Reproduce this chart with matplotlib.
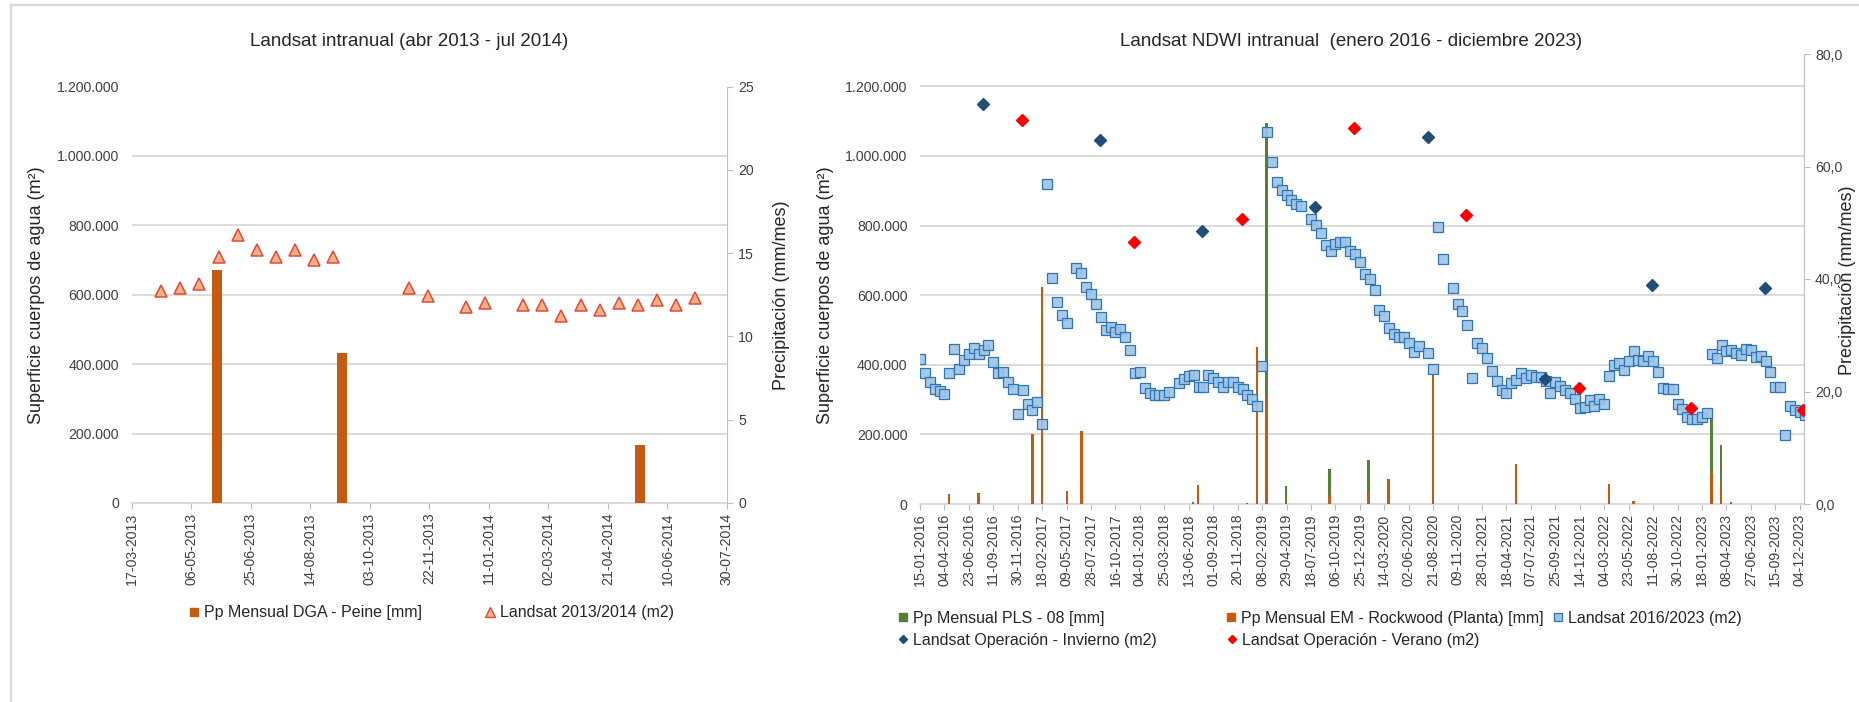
import matplotlib
matplotlib.use('Agg')
import matplotlib.pyplot as plt
import matplotlib.dates as mdates
from matplotlib.lines import Line2D
from matplotlib.ticker import FuncFormatter
import numpy as np
import pandas as pd

plt.rcParams['font.family'] = ['Liberation Sans', 'DejaVu Sans']

# ---- left chart data (2013/2014) ----
pp_dga_dates = ['2013-05-28', '2013-09-10', '2014-05-18']
pp_dga_mm = [14.0, 9.0, 3.5]
ls13_dates = ['2013-04-11', '2013-04-27', '2013-05-13', '2013-05-29', '2013-06-14', '2013-06-30',
              '2013-07-16', '2013-08-01', '2013-08-17', '2013-09-02', '2013-11-05', '2013-11-21',
              '2013-12-23', '2014-01-08', '2014-02-09', '2014-02-25', '2014-03-13', '2014-03-29',
              '2014-04-14', '2014-04-30', '2014-05-16', '2014-06-01', '2014-06-17', '2014-07-03']
ls13_area = [610, 620, 632, 709, 771, 729, 709, 729, 700, 710, 620, 597,
             566, 577, 570, 570, 538, 570, 557, 576, 570, 586, 570, 590]  # miles de m2

# ---- right chart data (2016/2023) ----
ls16_start = '2016-01-15'  # escenas cada 16 dias, nan = sin dato
ls16_area = [417, 375, 351, 331, 324, 316, 375, 446, 389, 414, 430, 449, 430, 442, 456, 407,
             376, 380, 350, 331, 259, 328, 288, 270, 292, 231, 920, 649, 580, 544, 521, np.nan,
             677, 664, 624, 603, 575, 538, 501, 508, 493, 504, 479, 442, 377, 378, 333, 320,
             312, 312, 312, 321, np.nan, 348, 358, 368, 370, 337, 337, 370, 363, 351, 336, 351,
             350, 336, 329, 313, 303, 282, 397, 1070, 983, 926, 901, 888, 874, 862, 857, np.nan,
             820, 803, 778, 745, 726, 746, 754, 753, 728, 717, 696, 660, 647, 616, 558, 541,
             507, 488, 480, 479, 464, 437, 455, np.nan, 434, 389, 795, 704, np.nan, 621, 575, 555,
             515, 362, 463, 448, 419, 383, 354, 328, 319, 347, 357, 376, 361, 372, 366, 366,
             352, 320, 350, 338, 328, 318, 302, 277, 280, 299, 282, 301, 287, 369, 400, 405,
             384, 410, 439, 415, 412, 426, 411, 378, 333, 330, 330, 288, 272, 251, 244, 244,
             251, 261, 431, 419, 457, 440, 443, 434, 429, 445, 443, 422, 426, 411, 379, 335,
             335, 199, 282, 270, 263, 256]
inv_dates = ['2016-08-08', '2017-08-27', '2018-07-27', '2019-07-31', '2020-08-03', '2021-08-22',
             '2022-08-09', '2023-08-11']
inv_area = [1150, 1046, 783, 853, 1054, 360, 629, 622]
ver_dates = ['2016-12-13', '2017-12-16', '2018-12-03', '2019-12-05', '2020-12-08', '2021-12-13',
             '2022-12-12', '2023-12-16']
ver_area = [1102, 753, 818, 1080, 830, 333, 275, 269]
em_dates = ['2016-04-19', '2016-07-24', '2017-01-18', '2017-02-17', '2017-05-10', '2017-06-27',
            '2018-06-27', '2018-07-14', '2019-01-22', '2019-02-23', '2019-09-17', '2020-01-22',
            '2020-03-28', '2020-08-20', '2021-05-20', '2022-03-20', '2022-06-08', '2023-02-18',
            '2023-03-21', '2023-04-23']
em_mm = [1.8, 1.9, 12.4, 38.6, 2.4, 13.0, 0.3, 3.4, 28.0, 19.2, 1.6, 2.2,
         4.4, 23.0, 7.2, 3.5, 0.5, 5.3, 3.25, 0.3]
pls_dates = ['2018-12-20', '2019-02-23', '2019-04-27', '2019-09-17', '2020-01-22', '2023-02-18',
             '2023-03-21']
pls_mm = [0.2, 67.7, 3.25, 6.3, 7.8, 15.4, 10.5]

W, H = 1859, 702
ORANGE = '#C55A11'
GREEN = '#548235'
GRID = '#D9D9D9'
TXT = '#262626'
TCK = '#404040'


def rect(x0, y0, x1, y1):
    return [x0 / W, 1 - y1 / H, (x1 - x0) / W, (y1 - y0) / H]


def miles(v, pos):
    return f'{v:,.0f}'.replace(',', '.')


def style_axes(ax, ax2, ticks, ylim, yticks):
    ax.set_ylim(*ylim)
    ax.set_yticks(yticks)
    ax.yaxis.set_major_formatter(FuncFormatter(miles))
    ax.grid(axis='y', color=GRID, lw=1.3)
    ax.set_axisbelow(True)
    for s in ['left', 'top', 'right']:
        ax.spines[s].set_visible(False)
    ax.spines['bottom'].set_color(GRID)
    ax.spines['bottom'].set_linewidth(1.3)
    ax.tick_params(axis='y', length=0, pad=9, labelsize=10.2, labelcolor=TCK)
    ax.set_xticks(ticks)
    ax.xaxis.set_major_formatter(mdates.DateFormatter('%d-%m-%Y'))
    ax.tick_params(axis='x', rotation=90, labelsize=10.2, labelcolor=TCK, length=4,
                   color='#BFBFBF', pad=3)
    for s in ['left', 'top', 'bottom']:
        ax2.spines[s].set_visible(False)
    ax2.spines['right'].set_color('#BFBFBF')
    ax2.tick_params(axis='y', length=4, color='#BFBFBF', pad=4, labelsize=10.2, labelcolor=TCK)


fig = plt.figure(figsize=(W / 100, H / 100), dpi=100)

# ---------------- left chart ----------------
r1 = rect(131.6, 86.5, 727, 503)
ax1 = fig.add_axes(r1)
ax1b = ax1.twinx()
ax1c = fig.add_axes(r1, sharex=ax1, sharey=ax1)
ax1c.axis('off')

t1 = pd.date_range('2013-03-17', '2014-07-30', freq='50D')
ax1.set_xlim(t1[0], t1[-1])
style_axes(ax1, ax1b, t1, (0, 1.2e6), np.arange(0, 1.2e6 + 1, 2e5))

ax1b.bar(pd.to_datetime(pp_dga_dates), pp_dga_mm, width=8.5, color=ORANGE)
ax1b.set_ylim(0, 25)
ax1b.set_yticks(range(0, 26, 5))
ax1c.plot(pd.to_datetime(ls13_dates), np.array(ls13_area) * 1000, ls='none', marker='^',
          ms=9.3, mfc='#F4B183', mec='#E04A3F', mew=1.1)

fig.text(409 / W, 1 - 41.7 / H, 'Landsat intranual (abr 2013 - jul 2014)', ha='center',
         va='center', fontsize=13.5, color=TXT)
fig.text(36.5 / W, 1 - 295 / H, 'Superficie cuerpos de agua (m²)', rotation=90, ha='center',
         va='center', fontsize=13, color=TXT)
fig.text(782 / W, 1 - 295 / H, 'Precipitación (mm/mes)', rotation=90, ha='center',
         va='center', fontsize=13, color=TXT)

# ---------------- right chart ----------------
r2 = rect(920, 54, 1804, 504)
ax2 = fig.add_axes(r2)
ax2b = ax2.twinx()
ax2c = fig.add_axes(r2, sharex=ax2, sharey=ax2)
ax2c.axis('off')

t2 = pd.date_range('2016-01-15', '2023-12-04', freq='80D')
ax2.set_xlim(t2[0], pd.Timestamp('2023-12-18'))
style_axes(ax2, ax2b, t2, (0, 1.293e6), np.arange(0, 1.2e6 + 1, 2e5))

ax2b.bar(pd.to_datetime(pls_dates), pls_mm, width=8, color=GREEN)
ax2b.bar(pd.to_datetime(em_dates), em_mm, width=8, color=ORANGE)
ax2b.set_ylim(0, 80)
ax2b.set_yticks(range(0, 81, 20))
ax2b.yaxis.set_major_formatter(FuncFormatter(lambda v, p: f'{v:.1f}'.replace('.', ',')))

ls16_dates = pd.date_range(ls16_start, periods=len(ls16_area), freq='16D')
ax2c.plot(ls16_dates, np.array(ls16_area) * 1000, ls='none', marker='s', ms=6.9,
          mfc=(0.616, 0.765, 0.902, 0.9), mec='#2E75B6', mew=0.9)
ax2c.plot(pd.to_datetime(inv_dates), np.array(inv_area) * 1000, ls='none', marker='D', ms=6.4,
          color='#1F4E79')
ax2c.plot(pd.to_datetime(ver_dates), np.array(ver_area) * 1000, ls='none', marker='D', ms=6.4,
          color='#FF0000')

fig.text(1351 / W, 1 - 41.7 / H, 'Landsat NDWI intranual  (enero 2016 - diciembre 2023)',
         ha='center', va='center', fontsize=13.5, color=TXT)
fig.text(826 / W, 1 - 295 / H, 'Superficie cuerpos de agua (m²)', rotation=90, ha='center',
         va='center', fontsize=13, color=TXT)
fig.text(1848 / W, 1 - 280 / H, 'Precipitación (mm/mes)', rotation=90, ha='center',
         va='center', fontsize=13, color=TXT)

# ---------------- legends ----------------
def legend_item(handle, label, xc, yc, fs=11.5):
    hl = 0.7
    x0 = xc - hl * fs * 100 / 72 / 2
    leg = fig.legend(handles=[handle], labels=[label], loc='center left',
                     bbox_to_anchor=(x0 / W, 1 - yc / H), frameon=False, fontsize=fs,
                     handlelength=hl, handletextpad=0.3, borderpad=0, borderaxespad=0)
    for t in leg.get_texts():
        t.set_color(TXT)


def sq(c):
    return Line2D([], [], ls='none', marker='s', ms=5.6, mfc=c, mec=c)


legend_item(sq(ORANGE), 'Pp Mensual DGA - Peine [mm]', 194, 613)
legend_item(Line2D([], [], ls='none', marker='^', ms=7, mfc='#F4B183', mec='#E04A3F', mew=1),
            'Landsat 2013/2014 (m2)', 490, 613)
legend_item(sq(GREEN), 'Pp Mensual PLS - 08 [mm]', 903, 618)
legend_item(sq(ORANGE), 'Pp Mensual EM - Rockwood (Planta) [mm]', 1231, 618)
legend_item(Line2D([], [], ls='none', marker='s', ms=5.6, mfc='#9DC3E6', mec='#2E75B6', mew=0.9),
            'Landsat 2016/2023 (m2)', 1558, 618)
legend_item(Line2D([], [], ls='none', marker='D', ms=4.2, color='#1F4E79'),
            'Landsat Operación - Invierno (m2)', 903, 640)
legend_item(Line2D([], [], ls='none', marker='D', ms=4.2, color='#FF0000'),
            'Landsat Operación - Verano (m2)', 1232, 640)

# chart frame
fig.add_artist(Line2D([11 / W, 11 / W], [0, 1 - 5 / H], color=GRID, lw=1.6))
fig.add_artist(Line2D([11 / W, 1], [1 - 5 / H, 1 - 5 / H], color=GRID, lw=1.6))

fig.savefig('out.png', dpi=100)
